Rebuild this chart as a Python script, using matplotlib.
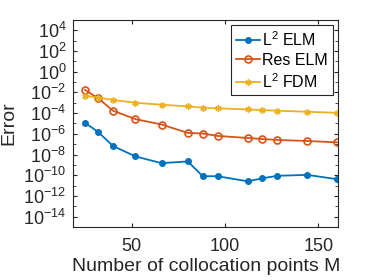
import matplotlib
matplotlib.use("Agg")
import matplotlib.pyplot as plt
import numpy as np
from matplotlib.ticker import FixedLocator, NullFormatter

plt.rcParams['font.family'] = ['Liberation Sans', 'DejaVu Sans']
plt.rcParams['mathtext.fontset'] = 'custom'
plt.rcParams['mathtext.rm'] = 'Liberation Sans'
plt.rcParams['mathtext.it'] = 'Liberation Sans'

# collocation points
M = [25, 32, 40, 52, 66, 80, 88, 96, 112, 120, 128, 144, 160]

# log10 of the errors
l2_elm = [-4.94, -5.82, -7.18, -8.18, -8.83, -8.66, -10.09, -10.09,
          -10.58, -10.29, -10.05, -9.96, -10.38]
res_elm = [-1.76, -2.57, -3.77, -4.58, -5.10, -5.91, -5.97, -6.20,
           -6.40, -6.50, -6.59, -6.69, -6.82]
l2_fdm = [-2.32, -2.51, -2.73, -3.00, -3.19, -3.35, -3.48, -3.54,
          -3.64, -3.71, -3.77, -3.87, -3.97]

labels = ['L$^2$ ELM', 'Res ELM', 'L$^2$ FDM']
colors = ['#0072BD', '#D95319', '#EDB120']

fig = plt.figure(figsize=(3.74, 2.8), dpi=100)
ax = fig.add_axes([0.196, 0.189, 0.709, 0.740])

ax.semilogy(M, 10.0 ** np.array(l2_elm), '-', marker='.', ms=8,
            color=colors[0], lw=1.3, label=labels[0])
ax.semilogy(M, 10.0 ** np.array(res_elm), '-', marker='o', ms=5, mfc='none',
            mew=1.2, color=colors[1], lw=1.3, label=labels[1])
ax.semilogy(M, 10.0 ** np.array(l2_fdm), '-', marker=(6, 2, 0), ms=4.5,
            mew=1.1, color=colors[2], lw=1.3, label=labels[2])

ax.set_xlim(18.7, 160.7)
ax.set_ylim(1e-15, 1e5)
ax.set_xticks([50, 100, 150])
ax.yaxis.set_major_locator(FixedLocator([10.0 ** k for k in range(-14, 5, 2)]))
ax.yaxis.set_minor_locator(FixedLocator([10.0 ** k for k in range(-15, 5, 2)]))
ax.yaxis.set_minor_formatter(NullFormatter())

txt = '#262626'
ax.tick_params(which='both', direction='in', top=True, right=True,
               colors=txt, labelsize=13, length=3)
ax.tick_params(which='minor', length=2)
ax.tick_params(axis='x', pad=8)
ax.tick_params(axis='y', pad=5)
for s in ax.spines.values():
    s.set_color(txt)
    s.set_linewidth(0.8)

ax.set_xlabel('Number of collocation points M', fontsize=14, color=txt,
              labelpad=2)
ax.set_ylabel('Error', fontsize=14, color=txt)
ax.yaxis.set_label_coords(-0.21, 0.5)

leg = ax.legend(loc='upper right', fontsize=11.5, fancybox=False,
                edgecolor=txt, framealpha=1, handlelength=1.5,
                handletextpad=0.15, borderpad=0.3, labelspacing=0.25,
                borderaxespad=0.35)
leg.get_frame().set_linewidth(0.8)

fig.savefig('out.png', dpi=100)
